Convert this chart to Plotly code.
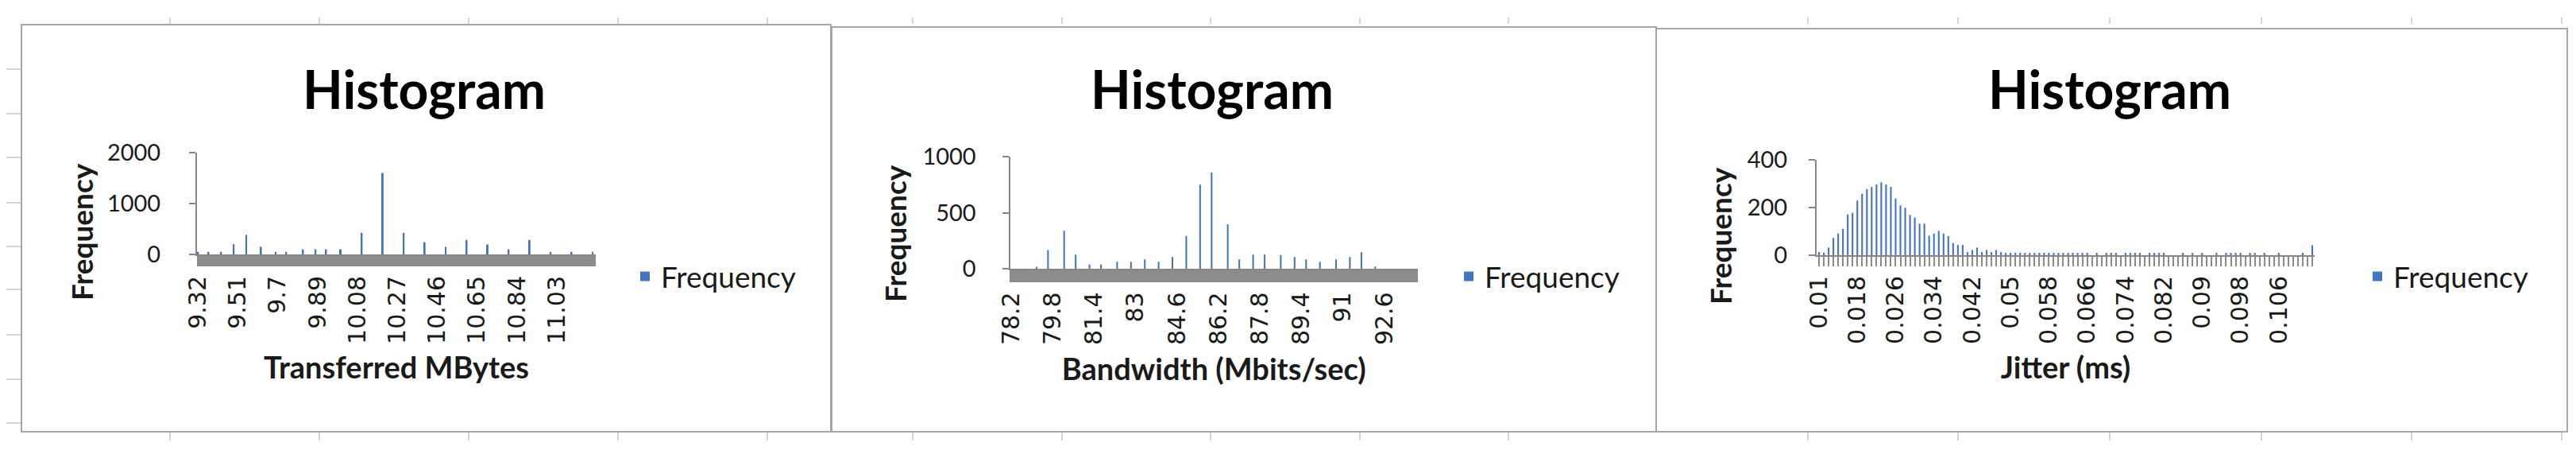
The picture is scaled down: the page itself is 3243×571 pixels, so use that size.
import plotly.graph_objects as go

# window size and the default 8px page margin of the html body
W, H = 3243, 571
PAGE_MARGIN = 8
FW, FH = W - 2 * PAGE_MARGIN, H - 2 * PAGE_MARGIN

# ---------------- data ----------------
# Panel 1 : Transferred MBytes  (bins of 0.01 starting at 9.32)
tr_bin_start = 9.32
tr_bin_step = 0.01
tr_bin_count = 190
tr_bar_bins = [0, 5, 11, 17, 23, 30, 37, 42, 50, 56, 61, 68,
               78, 88, 98, 108, 118, 128, 138, 148, 158, 168, 178, 188]
tr_bar_freq = [50, 50, 50, 200, 385, 150, 50, 50, 100, 100, 100, 100,
               425, 1600, 425, 240, 150, 285, 195, 100, 285, 50, 50, 50]
tr_tick_labels = ["9.32", "9.51", "9.7", "9.89", "10.08", "10.27",
                  "10.46", "10.65", "10.84", "11.03"]
tr_label_every = 19

# Panel 2 : Bandwidth (Mbits/sec)  (bins of 1.6/18 starting at 78.2)
bw_bin_start = 78.2
bw_bin_step = 1.6 / 18
bw_bin_count = 177
bw_bar_bins = [11, 16, 23, 28, 34, 39, 46, 52, 58, 64, 70, 76, 82,
               87, 94, 99, 105, 110, 117, 123, 128, 134, 141, 147, 152, 158]
bw_bar_freq = [20, 168, 340, 128, 42, 42, 65, 65, 86, 65, 106, 295, 753,
               860, 400, 86, 128, 128, 125, 106, 86, 65, 86, 106, 150, 22]
bw_tick_labels = ["78.2", "79.8", "81.4", "83", "84.6", "86.2",
                  "87.8", "89.4", "91", "92.6"]
bw_label_every = 18

# Panel 3 : Jitter (ms)  (bins of 0.001 starting at 0.010)
jit_bin_start = 0.010
jit_bin_step = 0.001
jit_freq = [
    13, 11, 32, 72, 91, 111, 171, 178, 229, 258,
    277, 286, 297, 306, 297, 286, 238, 209, 199, 169,
    158, 132, 132, 82, 91, 102, 91, 80, 51, 43,
    43, 13, 22, 32, 13, 22, 13, 22, 13, 10,
    10, 10, 10, 10, 10, 10, 10, 10, 10, 10,
    10, 10, 10, 10, 10, 10, 10, 0, 10, 0,
    10, 10, 10, 0, 10, 10, 10, 10, 0, 10,
    10, 10, 10, 0, 0, 0, 10, 0, 10, 0,
    10, 0, 0, 10, 0, 10, 10, 10, 10, 0,
    10, 10, 0, 10, 0, 0, 10, 0, 0, 0,
    0, 10, 0, 42,
]
jit_tick_labels = ["0.01", "0.018", "0.026", "0.034", "0.042", "0.05", "0.058",
                   "0.066", "0.074", "0.082", "0.09", "0.098", "0.106"]
jit_label_every = 8

titles = ["Histogram", "Histogram", "Histogram"]
x_titles = ["Transferred MBytes", "Bandwidth (Mbits/sec)", "Jitter (ms)"]
y_title = "Frequency"
series_name = "Frequency"

# ---------------- helpers ----------------
def fmt(v, dec):
    return f"{v:.{dec}f}".rstrip("0").rstrip(".")

def categories(start, step, n, dec):
    return [fmt(start + i * step, dec) for i in range(n)]

def expand(n, bins, freqs):
    y = [0] * n
    for b, f in zip(bins, freqs):
        y[b] = f
    return y

def ticktexts(n, labels, every):
    out = []
    for i in range(n):
        if i % every == 0 and i // every < len(labels):
            out.append(labels[i // every])
        else:
            out.append("")
    return out

def px(x):
    return (x - PAGE_MARGIN) / FW

def py(y):
    return 1 - (y - PAGE_MARGIN) / FH

BLUE = "#4472C4"
AXIS = "#868686"
BAND = "#8C8C8C"
TXT = "#1A1A1A"

tr_cats = categories(tr_bin_start, tr_bin_step, tr_bin_count, 2)
bw_cats = categories(bw_bin_start, bw_bin_step, bw_bin_count, 4)
jit_cats = categories(jit_bin_start, jit_bin_step, len(jit_freq), 3)

panels = [
    dict(cats=tr_cats, y=expand(tr_bin_count, tr_bar_bins, tr_bar_freq),
         labels=tr_tick_labels, every=tr_label_every, yr=[0, 2000], ydt=1000,
         xd=[248, 750], y0=320, ytop=192, bw=0.75, tw=3, tl=13, ystand=30,
         box=[27, 31, 1046, 543], title_x=534, ytitle_x=102, ytitle_y=292,
         leg_x=792),
    dict(cats=bw_cats, y=expand(bw_bin_count, bw_bar_bins, bw_bar_freq),
         labels=bw_tick_labels, every=bw_label_every, yr=[0, 1000], ydt=500,
         xd=[1271.5, 1785], y0=338.3, ytop=197.3, bw=0.7, tw=3, tl=15, ystand=27,
         box=[1047, 34, 2085, 543], title_x=1526, ytitle_x=1126, ytitle_y=294,
         leg_x=1829),
    dict(cats=jit_cats, y=jit_freq,
         labels=jit_tick_labels, every=jit_label_every, yr=[0, 400], ydt=200,
         xd=[2287, 2914], y0=321, ytop=201, bw=0.35, tw=2, tl=12, ystand=21,
         box=[2085, 36, 3232, 543], title_x=2656, ytitle_x=2165, ytitle_y=297,
         leg_x=2973),
]

fig = go.Figure()
shapes = []
annotations = []
layout_axes = {}

for k, p in enumerate(panels):
    sfx = "" if k == 0 else str(k + 1)
    leg = "legend" + sfx
    fig.add_trace(go.Bar(
        x=p["cats"], y=p["y"], name=series_name,
        xaxis="x" + sfx, yaxis="y" + sfx,
        marker=dict(color=BLUE, line=dict(width=0)),
        width=p["bw"], legend=leg, showlegend=True,
    ))
    n = len(p["cats"])
    layout_axes["xaxis" + sfx] = dict(
        domain=[px(p["xd"][0]), px(p["xd"][1])],
        anchor="y" + sfx, type="category",
        categoryorder="array", categoryarray=p["cats"],
        range=[-0.5, n - 0.5],
        tickmode="array", tickvals=p["cats"],
        ticktext=ticktexts(n, p["labels"], p["every"]),
        ticks="outside", ticklen=p["tl"], tickwidth=p["tw"], tickcolor=BAND,
        tickangle=-90,
        tickfont=dict(family="DejaVu Sans", size=30, color=TXT),
        showline=True, linecolor=AXIS, linewidth=2,
        showgrid=False, zeroline=False, fixedrange=True, automargin=False,
        title=dict(text=x_titles[k], standoff=18,
                   font=dict(family="Lato", size=38, color=TXT, weight="bold")),
    )
    layout_axes["yaxis" + sfx] = dict(
        domain=[py(p["y0"]), py(p["ytop"])],
        anchor="x" + sfx, range=p["yr"], dtick=p["ydt"], tick0=0,
        ticks="outside", ticklen=8, tickwidth=2, tickcolor=AXIS,
        ticklabelstandoff=p["ystand"],
        tickfont=dict(family="Lato", size=29, color=TXT),
        showline=True, linecolor=AXIS, linewidth=2,
        showgrid=False, zeroline=False, fixedrange=True, automargin=False,
    )
    layout_axes[leg] = dict(
        x=px(p["leg_x"]), y=py(348), xanchor="left", yanchor="middle",
        bgcolor="rgba(0,0,0,0)", borderwidth=0,
        font=dict(family="Lato", size=37, color=TXT),
    )
    b = p["box"]
    shapes.append(dict(type="rect", xref="paper", yref="paper",
                       x0=px(b[0]), x1=px(b[2]), y0=py(b[3]), y1=py(b[1]),
                       line=dict(color="#A6A6A6", width=2), fillcolor="rgba(0,0,0,0)"))
    annotations.append(dict(text=titles[k], xref="paper", yref="paper",
                            x=px(p["title_x"]), y=py(112), xanchor="center",
                            yanchor="middle", showarrow=False,
                            font=dict(family="Lato", size=66, color="#000000", weight="bold")))
    annotations.append(dict(text=y_title, xref="paper", yref="paper",
                            x=px(p["ytitle_x"]), y=py(p["ytitle_y"]), xanchor="center",
                            yanchor="middle", showarrow=False, textangle=-90,
                            font=dict(family="Lato", size=37, color=TXT, weight="bold")))

grid_cols = [214, 402, 590, 778, 966, 1149, 1337, 1524, 1712, 1899,
             2276, 2465, 2656, 2847, 3036, 3225]
grid_rows = [87, 143, 198, 255, 310, 364, 421, 477, 532]
for gx in grid_cols:
    shapes.append(dict(type="line", xref="paper", yref="paper",
                       x0=px(gx), x1=px(gx), y0=py(22), y1=py(30),
                       line=dict(color="#D4D4D4", width=2)))
    shapes.append(dict(type="line", xref="paper", yref="paper",
                       x0=px(gx), x1=px(gx), y0=py(544), y1=py(554),
                       line=dict(color="#D4D4D4", width=2)))
for gy in grid_rows:
    shapes.append(dict(type="line", xref="paper", yref="paper",
                       x0=px(8), x1=px(26), y0=py(gy), y1=py(gy),
                       line=dict(color="#D4D4D4", width=2)))

fig.update_layout(
    width=FW, height=FH, autosize=False,
    margin=dict(l=0, r=0, t=0, b=0, pad=0, autoexpand=False),
    paper_bgcolor="white", plot_bgcolor="rgba(0,0,0,0)",
    showlegend=True,
    shapes=shapes, annotations=annotations,
    **layout_axes,
)

fig.write_html("out.html")
